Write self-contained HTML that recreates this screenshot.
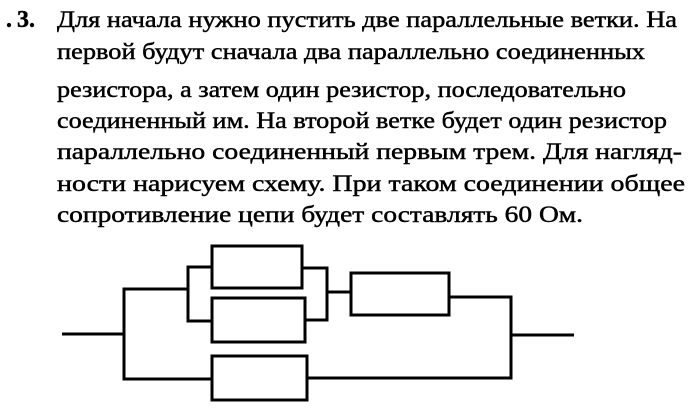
<!DOCTYPE html>
<html><head><meta charset="utf-8"><style>
html,body{margin:0;padding:0;background:#fff;width:700px;height:411px;overflow:hidden}
svg{display:block}
text{font-family:"Liberation Serif",serif;font-size:23px;fill:#000;stroke:#000;stroke-width:0.45}
</style></head><body>
<svg width="700" height="411" viewBox="0 0 700 411">
<text x="6" y="27" style="font-size:24px;font-weight:bold">.</text>
<text x="17" y="27" style="font-size:24px;font-weight:bold">3.</text>
<text x="57" y="27" textLength="620" lengthAdjust="spacingAndGlyphs">Для начала нужно пустить две параллельные ветки. На</text>
<text x="57" y="59" textLength="588" lengthAdjust="spacingAndGlyphs">первой будут сначала два параллельно соединенных</text>
<text x="57" y="97" textLength="569" lengthAdjust="spacingAndGlyphs">резистора, а затем один резистор, последовательно</text>
<text x="57" y="128" textLength="610" lengthAdjust="spacingAndGlyphs">соединенный им. На второй ветке будет один резистор</text>
<text x="57" y="159" textLength="625" lengthAdjust="spacingAndGlyphs">параллельно соединенный первым трем. Для нагляд-</text>
<text x="57" y="191" textLength="628" lengthAdjust="spacingAndGlyphs">ности нарисуем схему. При таком соединении общее</text>
<text x="57" y="222" textLength="526" lengthAdjust="spacingAndGlyphs">сопротивление цепи будет составлять 60 Ом.</text>
<g fill="none" stroke="#000" stroke-width="3">
<polyline points="62,334 124,334"/>
<polyline points="212,379 124,379 124,289 188,289"/>
<polyline points="212,267 188,267 188,321 212,321"/>
<rect x="212" y="246" width="90" height="42"/>
<rect x="212" y="298" width="93" height="44"/>
<polyline points="302,268 327,268 327,320 305,320"/>
<polyline points="327,292 351,292"/>
<rect x="351" y="273" width="98" height="42"/>
<polyline points="449,297 511,297 511,378 307,378"/>
<polyline points="511,335 574,335"/>
<rect x="212" y="356" width="95" height="44"/>
</g>
</svg>
</body></html>
